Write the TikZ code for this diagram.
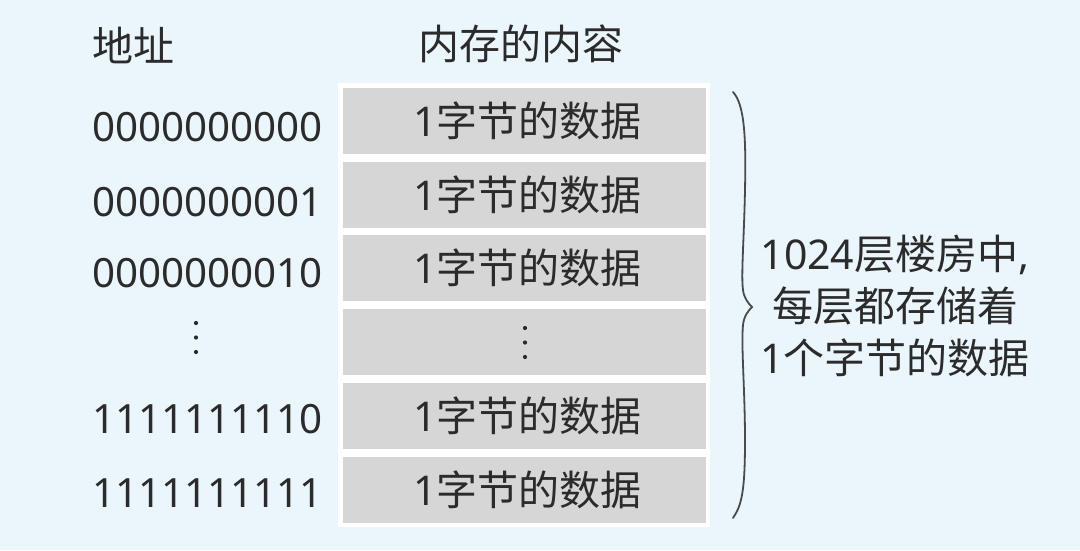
\documentclass[tikz,border=0pt]{standalone}
\usepackage{fontspec}
\setmainfont{Noto Sans}
\newfontfamily\cjk{Noto Sans CJK SC}

\definecolor{bgc}{HTML}{EBF5FC}
\definecolor{cellc}{HTML}{D6D6D6}
\definecolor{txt}{HTML}{2B2B2B}
\definecolor{brc}{HTML}{4A4A4A}

\begin{document}
\begin{tikzpicture}[x=1pt,y=-1pt,
  lbl/.style={font=\fontsize{41}{49}\selectfont, text=txt, inner sep=0pt},
  addr/.style={lbl, anchor=west, font=\fontsize{40.3}{48}\selectfont},
  cell/.style={fill=cellc, minimum width=363pt, minimum height=66pt, inner sep=0pt,
    text=txt, font=\fontsize{41}{49}\selectfont},
  celltext/.style={lbl},
  dotc/.style={fill=txt},
  bracec/.style={draw=brc, line width=1.8pt, line cap=round}
  ]
\fill[bgc] (0,0) rectangle (1080,550);
\useasboundingbox (0,0) rectangle (1080,550);
\fill[white] (338,83) rectangle (710,527);

% headers
\node[lbl] (h1) at (133,45) {\cjk 地址};
\node[lbl] (h2) at (521,44) {\cjk 内存的内容};

% cells
\node[cell] (c1) at (524.5,121) {};
\node[cell] (c2) at (524.5,194.5) {};
\node[cell] (c3) at (524.5,268) {};
\node[cell] (c4) at (524.5,341.5) {};
\node[cell] (c5) at (524.5,415.5) {};
\node[cell] (c6) at (524.5,489.5) {};
\foreach \c in {c1,c2,c3,c5,c6}
  \node[celltext] (t\c) at ([xshift=3pt]\c.center) {1{\cjk 字节的数据}};

\foreach \yy in {328,342.5,357} \fill[dotc] (525,\yy) circle (2.1);
\foreach \yy in {323,337.5,352} \fill[dotc] (196,\yy) circle (2.1);

% addresses
\node[addr] (a1) at (92,127) {0000000000};
\node[addr] (a2) at (92,202) {0000000001};
\node[addr] (a3) at (92,273) {0000000010};
\node[addr] (a5) at (92,419) {1111111110};
\node[addr] (a6) at (92,493) {1111111111};

% brace
\coordinate (bt) at (733,92);
\coordinate (bm) at (752,307);
\coordinate (bb) at (733,518);
\draw[bracec] (bt) .. controls (745,105) and (746,140) .. (745,190)
  .. controls (744,240) and (741,275) .. (743,290)
  .. controls (744,298) and (748,303) .. (bm)
  .. controls (748,311) and (744,316) .. (743,325)
  .. controls (741,345) and (745,390) .. (745,440)
  .. controls (745,490) and (742,505) .. (bb);

% note
\node[lbl, align=center, font=\fontsize{41}{52}\selectfont] (note) at (895,306)
  {1024{\cjk 层楼房中},\\{\cjk 每层都存储着}\\1{\cjk 个字节的数据}};
\end{tikzpicture}
\end{document}
